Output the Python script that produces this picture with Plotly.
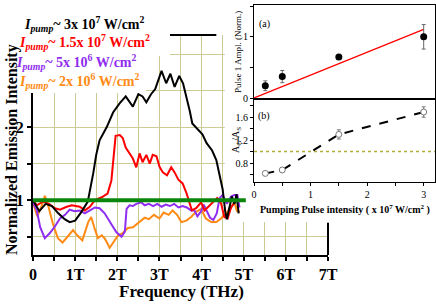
import plotly.graph_objects as go

W, H = 436, 305

# ---------------- main panel data (frequency THz, normalized intensity) ----------------
black_x = [0.0, 0.08, 0.15, 0.3, 0.45, 0.6, 0.75, 0.87, 1.0, 1.15, 1.3, 1.43, 1.5, 1.58, 1.75, 1.9,
           2.05, 2.2, 2.37, 2.5, 2.6, 2.69, 2.8, 2.9, 3.05, 3.16, 3.26, 3.36, 3.47, 3.56, 3.65,
           3.72, 3.78, 3.9, 4.02, 4.12, 4.25, 4.35, 4.42, 4.5, 4.56, 4.6, 4.66, 4.72, 4.78, 4.83, 4.88]
black_y = [1.0, 0.92, 0.85, 0.95, 0.92, 0.82, 0.74, 0.7, 0.72, 0.84, 0.98, 1.37, 1.62, 1.82, 2.0, 2.2,
           2.32, 2.42, 2.28, 2.45, 2.42, 2.34, 2.45, 2.52, 2.77, 2.6, 2.73, 2.55, 2.7, 2.6, 2.4,
           2.22, 2.05, 1.98, 1.9, 1.78, 1.68, 1.55, 1.38, 1.15, 0.85, 0.74, 0.9, 1.05, 0.95, 1.08, 0.82]

red_x = [0, 0.09, 0.24, 0.38, 0.52, 0.64, 0.8, 0.92, 1.11, 1.23, 1.35, 1.47, 1.63, 1.77, 1.86, 1.92,
         1.96, 2.06, 2.13, 2.2, 2.3, 2.37, 2.45, 2.53, 2.6, 2.69, 2.77, 2.84, 2.93, 3.0, 3.08, 3.18,
         3.28, 3.36, 3.45, 3.55, 3.64, 3.71, 3.77, 3.87, 3.99, 4.07, 4.14, 4.26, 4.37, 4.46, 4.54,
         4.62, 4.7, 4.78, 4.85]
red_y = [1.0, 0.93, 0.98, 0.95, 0.89, 0.87, 0.91, 0.93, 0.91, 0.86, 0.91, 1.0, 1.04, 1.09, 1.27, 1.64,
         1.88, 1.89, 1.85, 1.72, 1.62, 1.57, 1.45, 1.64, 1.52, 1.62, 1.5, 1.62, 1.6, 1.46, 1.38, 1.34,
         1.45, 1.38, 1.28, 1.23, 1.1, 0.95, 0.86, 0.89, 0.97, 0.86, 0.9, 0.96, 1.03, 0.96, 0.77,
         0.75, 0.9, 0.97, 1.0]

purple_x = [0, 0.09, 0.17, 0.28, 0.4, 0.52, 0.64, 0.76, 0.87, 0.99, 1.11, 1.23, 1.35, 1.47, 1.58, 1.7,
            1.86, 1.98, 2.1, 2.18, 2.22, 2.29, 2.37, 2.45, 2.57, 2.65, 2.75, 2.85, 2.95, 3.05, 3.15,
            3.25, 3.35, 3.45, 3.55, 3.65, 3.75, 3.83, 3.9, 3.99, 4.05, 4.12, 4.2, 4.28, 4.36, 4.43,
            4.5, 4.6, 4.7, 4.78, 4.85, 4.9]
purple_y = [0.97, 0.86, 0.63, 0.48, 0.55, 0.64, 0.75, 0.8, 0.87, 0.85, 0.86, 0.82, 0.86, 0.9, 0.89, 0.82,
            0.67, 0.56, 0.5, 0.57, 0.88, 0.93, 0.92, 0.95, 0.97, 0.93, 0.95, 0.92, 0.95, 0.91, 0.94,
            0.92, 0.95, 0.9, 0.92, 0.9, 0.86, 0.86, 0.78, 0.85, 0.94, 0.85, 0.76, 0.73, 0.82, 1.03,
            1.07, 0.95, 1.05, 1.07, 1.07, 0.9]

orange_x = [0, 0.1, 0.21, 0.28, 0.36, 0.47, 0.59, 0.7, 0.82, 0.95, 1.05, 1.17, 1.31, 1.38, 1.47, 1.54,
            1.63, 1.71, 1.82, 1.94, 2.02, 2.13, 2.25, 2.37, 2.48, 2.57, 2.65, 2.75, 2.87, 3.0, 3.1,
            3.22, 3.31, 3.42, 3.52, 3.64, 3.75, 3.87, 3.99, 4.1, 4.23, 4.35, 4.46, 4.58, 4.7, 4.78,
            4.84, 4.9]
orange_y = [0.97, 0.78, 0.93, 1.06, 0.93, 0.68, 0.48, 0.42, 0.5, 0.59, 0.52, 0.45, 0.7, 0.77, 0.6, 0.48,
            0.52, 0.47, 0.35, 0.46, 0.52, 0.55, 0.62, 0.63, 0.68, 0.73, 0.76, 0.74, 0.8, 0.75, 0.83,
            0.8, 0.86, 0.8, 0.7, 0.72, 0.77, 0.84, 0.88, 0.75, 0.7, 0.7, 0.75, 0.82, 0.9, 0.97,
            0.85, 0.84]

green_x = [0, 5.05]
green_y = [1.0, 1.0]

freq_tick_vals = [0, 0.5, 1, 1.5, 2, 2.5, 3, 3.5, 4, 4.5, 5, 5.5, 6, 6.5, 7]
freq_tick_text = ["0", "", "1T", "", "2T", "", "3T", "", "4T", "", "5T", "", "6T", "", "7T"]
int_tick_vals = [0.5, 1, 1.5, 2, 2.5, 3]
int_tick_text = ["", "1", "", "2", "", ""]

legend_texts = ["3x 10<sup>7</sup> W/cm<sup>2</sup>", "1.5x 10<sup>7</sup> W/cm<sup>2</sup>",
                "5x 10<sup>6</sup> W/cm<sup>2</sup>", "2x 10<sup>6</sup> W/cm<sup>2</sup>"]

# ---------------- inset data ----------------
pump_x = [0.2, 0.5, 1.5, 3.0]
pulse1_amp = [0.2, 0.35, 0.67, 1.0]
pulse1_err = [0.08, 0.1, 0.03, 0.2]
fit_x = [0.0, 3.0]
fit_y = [0.0, 1.12]
ratio_ag_as = [0.62, 0.68, 1.3, 1.69]
ratio_err = [0.02, 0.03, 0.08, 0.09]
unity_x = [0.0, 3.2]
unity_y = [1.0, 1.0]

C_BLACK, C_RED, C_PURPLE, C_ORANGE, C_GREEN = "#000000", "#ff0000", "#8f2df0", "#ff8a14", "#0a870a"
GRID = "#cbcb95"
SERIF = "Liberation Serif"

fig = go.Figure()
for xs, ys, c in [(orange_x, orange_y, C_ORANGE), (purple_x, purple_y, C_PURPLE),
                  (red_x, red_y, C_RED), (black_x, black_y, C_BLACK)]:
    fig.add_trace(go.Scatter(x=xs, y=ys, mode="lines", line=dict(color=c, width=2),
                             xaxis="x", yaxis="y", showlegend=False))
fig.add_trace(go.Scatter(x=green_x, y=green_y, mode="lines", line=dict(color=C_GREEN, width=4),
                         xaxis="x", yaxis="y", showlegend=False))

# inset (a)
fig.add_trace(go.Scatter(x=fit_x, y=fit_y, mode="lines", line=dict(color=C_RED, width=1.3),
                         xaxis="x2", yaxis="y2", showlegend=False))
fig.add_trace(go.Scatter(x=pump_x, y=pulse1_amp, mode="markers",
                         marker=dict(color="black", size=7),
                         error_y=dict(type="data", array=pulse1_err, color="#666", thickness=1, width=2),
                         xaxis="x2", yaxis="y2", showlegend=False))
# inset (b)
fig.add_trace(go.Scatter(x=unity_x, y=unity_y, mode="lines",
                         line=dict(color="#b5ad3a", width=1.5, dash="dot"),
                         xaxis="x3", yaxis="y3", showlegend=False))
fig.add_trace(go.Scatter(x=pump_x, y=ratio_ag_as, mode="lines+markers",
                         line=dict(color="black", width=2, dash="dash"),
                         marker=dict(color="white", size=6, line=dict(color="#777", width=1)),
                         error_y=dict(type="data", array=ratio_err, color="#777", thickness=1, width=2),
                         xaxis="x3", yaxis="y3", showlegend=False))

main_xdom = [33 / W, 328 / W]
main_ydom = [50 / H, 270 / H]
ins_xdom = [254 / W, 435 / W]

tick_main = dict(family=SERIF, size=16, color="black", weight="bold")
tick_ins = dict(family=SERIF, size=10, color="black")

fig.update_layout(
    template="none",
    width=W, height=H, margin=dict(l=0, r=0, t=0, b=0, autoexpand=False),
    paper_bgcolor="white", plot_bgcolor="white",
    xaxis=dict(domain=main_xdom, range=[0, 7], tickvals=freq_tick_vals, ticktext=freq_tick_text,
               showgrid=True, gridcolor=GRID, gridwidth=1, zeroline=False, automargin=False,
               showline=True, linecolor="black", linewidth=2, ticks="outside", ticklen=4,
               tickwidth=2, tickcolor="black", tickfont=tick_main, anchor="y"),
    yaxis=dict(domain=main_ydom, range=[0.25, 3.26], tickvals=int_tick_vals, ticktext=int_tick_text,
               showgrid=True, gridcolor=GRID, gridwidth=1, zeroline=False, automargin=False,
               showline=True, linecolor="black", linewidth=2, ticks="outside", ticklen=4,
               tickwidth=2, tickcolor="black", tickfont=tick_main, anchor="x"),
    xaxis2=dict(domain=ins_xdom, range=[0, 3.2], tickvals=[0, 0.5, 1, 1.5, 2, 2.5, 3],
                showticklabels=False, showgrid=False, zeroline=False, showline=True, mirror=True,
                linecolor="black", linewidth=1, ticks="outside", ticklen=3, tickcolor="black",
                automargin=False, anchor="y2"),
    yaxis2=dict(domain=[(H - 98) / H, (H - 5) / H], range=[0, 1.52],
                tickvals=[0, 0.5, 1, 1.5], ticktext=["0", "", "1", ""],
                showgrid=False, zeroline=False, showline=True, mirror=True,
                linecolor="black", linewidth=1, ticks="outside", ticklen=3, tickcolor="black",
                tickfont=tick_ins, automargin=False, anchor="x2"),
    xaxis3=dict(domain=ins_xdom, range=[0, 3.2], tickvals=[0, 0.5, 1, 1.5, 2, 2.5, 3],
                ticktext=["0", "", "1", "", "2", "", "3"],
                showgrid=False, zeroline=False, showline=True, mirror=True,
                linecolor="black", linewidth=1, ticks="outside", ticklen=3, tickcolor="black",
                tickfont=tick_ins, automargin=False, anchor="y3"),
    yaxis3=dict(domain=[(H - 182) / H, (H - 100) / H], range=[0.47, 1.9],
                tickvals=[0.6, 0.8, 1.0, 1.2, 1.4, 1.6, 1.8],
                ticktext=["", "0.8", "", "1.2", "", "1.6", ""],
                showgrid=False, zeroline=False, showline=True, mirror=True,
                linecolor="black", linewidth=1, ticks="outside", ticklen=3, tickcolor="black",
                tickfont=tick_ins, automargin=False, anchor="x3"),
)

shapes = [
    # white inset background hiding main grid
    dict(type="rect", xref="x", yref="y", x0=4.55, x1=7.3, y0=0.70, y1=3.5,
         fillcolor="white", line=dict(width=0), layer="between"),
    # visible pieces of main frame
    dict(type="line", xref="x domain", yref="y domain", x0=3.24 / 7, x1=4.35 / 7, y0=1, y1=1,
         line=dict(color="black", width=2), layer="above"),
    dict(type="line", xref="x domain", yref="y domain", x0=1, x1=1, y0=0, y1=(0.69 - 0.25) / 3.01,
         line=dict(color="black", width=2), layer="above"),
    # white legend box
    dict(type="rect", xref="paper", yref="paper", x0=0, x1=170 / W, y0=1 - 56 / H, y1=1,
         fillcolor="white", line=dict(width=0), layer="above"),
    dict(type="rect", xref="paper", yref="paper", x0=0, x1=146 / W, y0=1 - 93 / H, y1=1 - 56 / H,
         fillcolor="white", line=dict(width=0), layer="above"),
]
fig.update_layout(shapes=shapes)


def px(xp, yp):
    return xp / W, 1 - yp / H


def note(xp, yp, text, font, angle=0, xanchor="center"):
    x_, y_ = px(xp, yp)
    return dict(xref="paper", yref="paper", x=x_, y=y_, xanchor=xanchor, yanchor="middle",
                showarrow=False, align="left", text=text, textangle=angle, font=font)


ann = []
leg_colors = [C_BLACK, C_RED, C_PURPLE, C_ORANGE]
leg_pos = [(22, 24), (17, 42), (14, 62), (17, 81)]
for txt, col, (lx, ly) in zip(legend_texts, leg_colors, leg_pos):
    ann.append(note(lx, ly, "<i>I</i><sub><i>pump</i></sub>~ " + txt,
                    dict(family=SERIF, size=14, color=col, weight="bold"), xanchor="left"))

ann.append(note(181, 291, "Frequency (THz)", dict(family=SERIF, size=17, color="black", weight="bold")))
ann.append(note(12, 150, "Normalized Emission Intensity",
                dict(family=SERIF, size=16, color="black", weight="bold"), angle=-90))
ann.append(note(238, 52, "Pulse 1 Ampl. (Norm.)", dict(family=SERIF, size=9, color="black"), angle=-90))
ann.append(note(236, 140, "A<sub>G</sub>/A<sub>S</sub>", dict(family=SERIF, size=10, color="black"), angle=-90))
ann.append(note(345, 209, "Pumping Pulse intensity ( x 10<sup>7</sup> W/cm<sup>2</sup> )",
                dict(family=SERIF, size=10, color="black", weight="bold")))
ann.append(note(264, 24, "(a)", dict(family=SERIF, size=10, color="black")))
ann.append(note(264, 116, "(b)", dict(family=SERIF, size=10, color="black")))
fig.update_layout(annotations=ann)

fig.write_html("out.html", config={"displayModeBar": False},
               post_script="document.body.style.margin='0';document.body.style.overflow='hidden';")
